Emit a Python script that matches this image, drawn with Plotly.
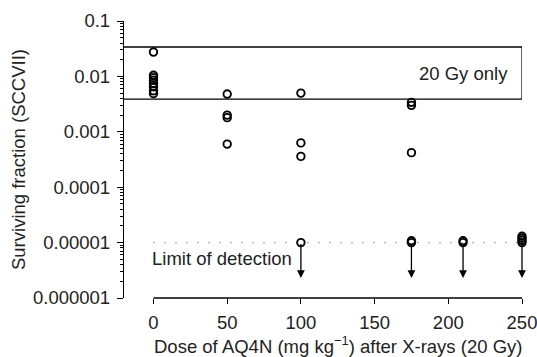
import plotly.graph_objects as go
import math

# Data
dose_measured = [0, 0, 0, 0, 0, 0, 0, 0,
                 50, 50, 50, 50,
                 100, 100, 100,
                 175, 175, 175]
sf_measured = [0.0275, 0.0105, 0.0095, 0.0085, 0.0075, 0.0065, 0.0055, 0.0049,
               0.0048, 0.0020, 0.0018, 0.0006,
               0.0050, 0.00063, 0.00036,
               0.0034, 0.0030, 0.00042]

dose_limit = [100, 175, 175, 210, 210, 250, 250, 250, 250, 252, 252]
sf_limit = [1e-5, 1e-5, 1.08e-5, 1e-5, 1.08e-5, 1e-5, 1.1e-5, 1.2e-5, 1.3e-5, 1.05e-5, 1.2e-5]
arrow_doses = [100, 175, 210, 250]
arrow_end = 2.3e-6

limit_of_detection = 1e-5
box_top = 0.034
box_bottom = 0.0039

y_tickvals = [0.1, 0.01, 0.001, 0.0001, 0.00001, 0.000001]
y_ticktext = ["0.1", "0.01", "0.001", "0.0001", "0.00001", "0.000001"]
x_tickvals = [0, 50, 100, 150, 200, 250]

FONT = "Liberation Sans, Arial, sans-serif"
TXT = "#222"
FS = 18.5

fig = go.Figure()

# dotted limit of detection line
fig.add_trace(go.Scatter(x=[0, 250], y=[limit_of_detection, limit_of_detection],
                         mode="lines", line=dict(color="#666", width=1.2, dash="1px,10px"),
                         hoverinfo="skip", showlegend=False))

marker = dict(symbol="circle-open", size=7.5, color="black", line=dict(width=1.9, color="black"))
fig.add_trace(go.Scatter(x=dose_measured, y=sf_measured, mode="markers",
                         marker=marker, cliponaxis=False, showlegend=False))
fig.add_trace(go.Scatter(x=dose_limit, y=sf_limit, mode="markers",
                         marker=marker, cliponaxis=False, showlegend=False))

# arrows below the limit of detection
for d in arrow_doses:
    fig.add_annotation(x=d, y=math.log10(arrow_end), ax=d, ay=math.log10(limit_of_detection),
                       xref="x", yref="y", axref="x", ayref="y", text="",
                       showarrow=True, arrowhead=2, arrowsize=1.2, arrowwidth=1.3,
                       arrowcolor="black")

# "20 Gy only" box
fig.add_shape(type="line", xref="x", yref="y", x0=-20, x1=250, y0=box_top, y1=box_top,
              line=dict(color="black", width=1.6))
fig.add_shape(type="line", xref="x", yref="y", x0=-20, x1=250, y0=box_bottom, y1=box_bottom,
              line=dict(color="black", width=1.2))
fig.add_shape(type="line", xref="x", yref="y", x0=250, x1=250, y0=box_bottom, y1=box_top,
              line=dict(color="black", width=1.2))
fig.add_annotation(x=210, y=math.log10(math.sqrt(box_top * box_bottom)), xref="x", yref="y",
                   text="20 Gy only", showarrow=False,
                   font=dict(family=FONT, size=FS, color=TXT))

fig.add_annotation(x=0, y=math.log10(limit_of_detection), xref="x", yref="y",
                   text="Limit of detection", showarrow=False, xanchor="left", yanchor="top",
                   xshift=-3, yshift=-3, font=dict(family=FONT, size=FS, color=TXT))

# x axis title (centred under the detached x axis, as in the reference)
fig.add_annotation(x=125, y=0, xref="x", yref="paper",
                   text="Dose of AQ4N (mg kg<sup>\u22121</sup>) after X-rays (20 Gy)",
                   showarrow=False, xanchor="center", yanchor="middle", yshift=-47,
                   font=dict(family=FONT, size=FS, color=TXT))

# detached x axis line
fig.add_shape(type="line", xref="x", yref="paper", x0=0, x1=250, y0=0, y1=0,
              line=dict(color="black", width=1.3))

fig.update_layout(
    width=537, height=357,
    margin=dict(l=124, r=15, t=21, b=59),
    plot_bgcolor="white", paper_bgcolor="white",
    font=dict(family=FONT, size=FS, color=TXT),
    showlegend=False,
)
fig.update_xaxes(range=[-20, 250], tickvals=x_tickvals, ticks="outside", ticklen=5,
                 tickcolor="black", showline=False, showgrid=False, zeroline=False,
                 automargin=False, tickfont=dict(size=FS), ticklabelstandoff=3,
                 ticklabeloverflow="allow")
fig.update_yaxes(type="log", range=[-6, -1], tickvals=y_tickvals, ticktext=y_ticktext,
                 ticks="outside", ticklen=6, tickcolor="black", showline=True,
                 linecolor="black", linewidth=1.3, showgrid=False, zeroline=False,
                 automargin=False, tickfont=dict(size=FS), ticklabelstandoff=3,
                 ticklabeloverflow="allow",
                 minor=dict(ticks="outside", ticklen=3, tickcolor="black", dtick="D1", showgrid=False),
                 title=dict(text="Surviving fraction (SCCVII)", standoff=2, font=dict(size=FS)))

fig.write_html("out.html")
